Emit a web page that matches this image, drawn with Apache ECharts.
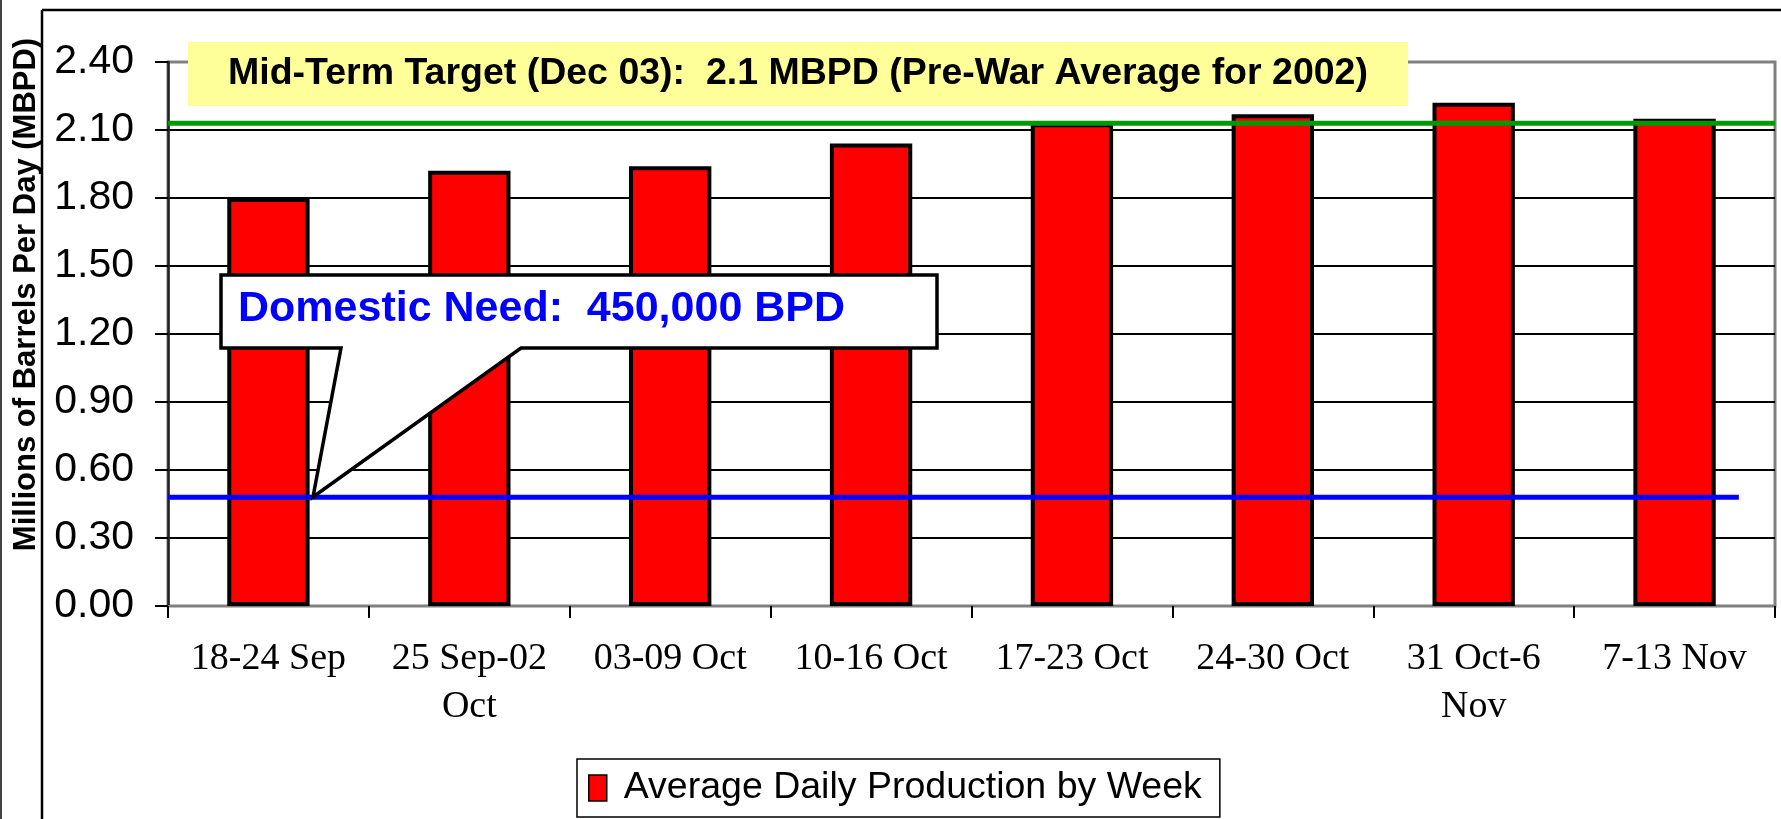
<!DOCTYPE html>
<html>
<head>
<meta charset="utf-8">
<script src="https://cdn.jsdelivr.net/npm/echarts@6/dist/echarts.min.js"></script>
<style>
	html, body { margin: 0; padding: 0; background: #fff; }
	#chart { width: 1781px; height: 819px; }
</style>
</head>
<body>
<div id="chart"></div>
<script>
	// weekly categories and average production (million barrels per day)
	const weeks = ['18-24 Sep', '25 Sep-02\nOct', '03-09 Oct', '10-16 Oct', '17-23 Oct', '24-30 Oct', '31 Oct-6\nNov', '7-13 Nov'];
	const production = [1.80, 1.92, 1.94, 2.04, 2.13, 2.17, 2.22, 2.15];

	// y axis range
	const yMin = 0;
	const yMax = 2.4;
	const yStep = 0.3;

	// reference lines, [x position in category units, value]
	const targetLine = [[0, 2.13], [8, 2.13]];
	const needLine = [[0, 0.48], [7.82, 0.48]];

	const seriesName = 'Average Daily Production by Week';
	const targetText = 'Mid-Term Target (Dec 03):  2.1 MBPD (Pre-War Average for 2002)';
	const needText = 'Domestic Need:  450,000 BPD';

	const sans = '"Liberation Sans", Arial, sans-serif';
	const serif = '"Liberation Serif", "Times New Roman", serif';

	let chart = echarts.init(document.getElementById('chart'));

	let option = {
		animation: false,
		grid: {
			left: 168,
			right: 6,
			top: 62,
			bottom: 213,
			show: true,
			borderColor: '#808080',
			borderWidth: 3,
			backgroundColor: '#fff',
			outerBoundsMode: 'none'
		},
		legend: {
			data: [seriesName],
			left: 577,
			top: 759,
			orient: 'horizontal',
			icon: 'rect',
			itemWidth: 18,
			itemHeight: 26,
			padding: [10, 18, 10, 11],
			borderColor: '#000',
			borderWidth: 1.5,
			backgroundColor: '#fff',
			itemStyle: {
				color: '#FF0000',
				borderColor: '#000',
				borderWidth: 1.5
			},
			textStyle: {
				fontFamily: sans,
				fontSize: 37.5,
				color: '#000',
				padding: [0, 0, 0, 12]
			}
		},
		xAxis: [{
			type: 'category',
			data: weeks,
			boundaryGap: true,
			axisLine: {
				show: true,
				lineStyle: { color: '#808080', width: 2 }
			},
			axisTick: {
				show: true,
				length: 12,
				lineStyle: { color: '#000', width: 2 }
			},
			axisLabel: {
				interval: 0,
				margin: 29,
				fontFamily: serif,
				fontSize: 38,
				lineHeight: 48,
				color: '#000'
			},
			splitLine: { show: false }
		}, {
			// hidden helper axis so the reference lines run across the plot
			type: 'value',
			min: 0,
			max: 8,
			show: false
		}],
		yAxis: {
			type: 'value',
			min: yMin,
			max: yMax,
			interval: yStep,
			name: 'Millions of Barrels Per Day (MBPD)',
			nameLocation: 'middle',
			nameRotate: 90,
			nameGap: 126,
			nameTextStyle: {
				fontFamily: sans,
				fontWeight: 'bold',
				fontSize: 31,
				color: '#000',
				padding: [0, 0, 0, 79]
			},
			axisLine: {
				show: true,
				lineStyle: { color: '#222', width: 2.5 }
			},
			axisTick: {
				show: true,
				length: 13,
				lineStyle: { color: '#000', width: 2 }
			},
			axisLabel: {
				margin: 34,
				fontFamily: sans,
				fontSize: 41,
				color: '#000',
				formatter: v => v.toFixed(2)
			},
			splitLine: {
				show: true,
				showMinLine: false,
				showMaxLine: false,
				lineStyle: { color: '#000', width: 2 }
			}
		},
		series: [{
			type: 'bar',
			name: seriesName,
			data: production,
			barWidth: '41%',
			itemStyle: {
				color: '#FF0000',
				borderColor: '#000',
				borderWidth: 4
			}
		}, {
			type: 'line',
			xAxisIndex: 1,
			data: targetLine,
			showSymbol: false,
			lineStyle: { color: '#009900', width: 5 }
		}, {
			type: 'line',
			xAxisIndex: 1,
			data: needLine,
			showSymbol: false,
			lineStyle: { color: '#0000FF', width: 5 }
		}],
		graphic: [
			// outer frame lines
			{ type: 'line', z: 50, shape: { x1: 1, y1: 0, x2: 1, y2: 819 }, style: { stroke: '#444', lineWidth: 2 } },
			{ type: 'line', z: 50, shape: { x1: 42, y1: 10, x2: 42, y2: 819 }, style: { stroke: '#000', lineWidth: 2.5 } },
			{ type: 'line', z: 50, shape: { x1: 42, y1: 10, x2: 1781, y2: 10 }, style: { stroke: '#000', lineWidth: 2.5 } },
			// target label
			{ type: 'rect', z: 100, shape: { x: 188, y: 42, width: 1220, height: 64 }, style: { fill: '#FFFF99' } },
			{
				type: 'text', z: 101, x: 798, y: 74,
				style: {
					text: targetText,
					fill: '#000',
					font: 'bold 37.5px ' + sans,
					textAlign: 'center',
					textVerticalAlign: 'middle'
				}
			},
			// domestic need callout
			{
				type: 'polygon', z: 100,
				shape: {
					points: [[221, 275], [937, 275], [937, 348], [521, 348], [313, 497], [341, 348], [221, 348]]
				},
				style: { fill: '#fff', stroke: '#000', lineWidth: 3.5, lineJoin: 'miter' }
			},
			{
				type: 'text', z: 101, x: 238, y: 309,
				style: {
					text: needText,
					fill: '#0000FF',
					font: 'bold 43px ' + sans,
					textAlign: 'left',
					textVerticalAlign: 'middle'
				}
			}
		]
	};

	chart.setOption(option);
	window.addEventListener('resize', function() {
		chart.resize();
	});
</script>
</body>
</html>
